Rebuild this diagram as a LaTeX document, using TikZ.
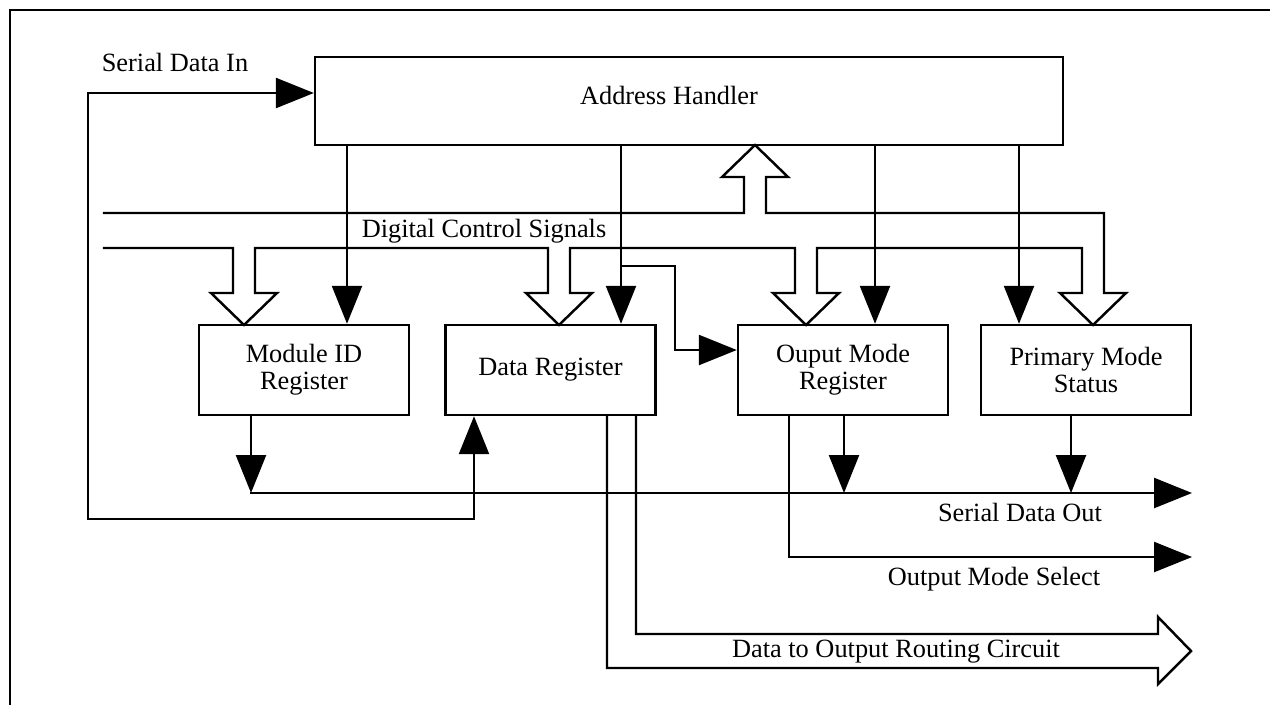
\documentclass[tikz,border=0pt]{standalone}
\usepackage{fontspec}
\setmainfont{Liberation Serif}
\usetikzlibrary{arrows.meta}
\begin{document}
\begin{tikzpicture}[x=0.02cm, y=-0.02cm, line width=1.4pt, line cap=rect,
        font={\fontsize{15}{15.3}\selectfont},
        block/.style={draw, minimum width=4.2cm, minimum height=1.8cm, inner sep=0pt, align=center},
        sig/.style={-{Triangle[length=0.76cm, width=0.6cm]}}]
        \useasboundingbox (0,0) rectangle (1270,704);
        \draw[line width=1.6pt] (10,704) -- (10,10) -- (1270,10);
        % boxes
        \node[draw, minimum width=14.96cm, minimum height=1.76cm] (addr) at (689,101) {};
        \node (addrtxt) at (669,95) {Address Handler};
        \node[block] (modid) at (304,370) {Module ID\\Register};
        \node[block] (datareg) at (550.5,370) {Data Register};
        \node[block] (outmode) at (843,370) {Ouput Mode\\Register};
        \node[block] (primode) at (1086,370) {Primary Mode\\Status};
        % labels
        \node (sditxt) at (175,62) {Serial Data In};
        \node (dcstxt) at (484,231) {Digital Control Signals};
        \node (sdotxt) at (1020,512) {Serial Data Out};
        \node (omstxt) at (994,579) {Output Mode Select};
        \node (dortxt) at (896,652) {Data to Output Routing Circuit};
        \coordinate (sdin) at (88,93);
        \coordinate (sdo) at (1192,493);
        \coordinate (oms) at (1192,557);
        % serial data in loop
        \draw[sig] (sdin) -- (sdin -| addr.west);
        \draw[sig] (sdin) |- (474,519) -- (474,0 |- datareg.south);
        % control bus
        \draw (104,213) -- (744,213) -- (744,177) -- (722,177) -- (755,145) -- (788,177) -- (766,177)
            -- (766,213) -- (1104,213) -- (1104,293) -- (1126,293) -- (1093,325) -- (1060,293)
            -- (1082,293) -- (1082,248) -- (817,248) -- (817,293) -- (839,293) -- (806,325)
            -- (773,293) -- (795,293) -- (795,248) -- (570,248) -- (570,293) -- (592,293)
            -- (559,325) -- (526,293) -- (548,293) -- (548,248) -- (255,248) -- (255,293)
            -- (277,293) -- (244,325) -- (211,293) -- (233,293) -- (233,248) -- (104,248);
        % address handler outputs
        \draw[sig] (347,0 |- addr.south) -- (347,0 |- modid.north);
        \draw[sig] (621,0 |- addr.south) -- (621,0 |- datareg.north);
        \draw[sig] (621,266) -| (675,350) -- (outmode.west |- 0,350);
        \draw[sig] (875,0 |- addr.south) -- (875,0 |- outmode.north);
        \draw[sig] (1019,0 |- addr.south) -- (1019,0 |- primode.north);
        % serial data out
        \draw[sig] (251,0 |- sdo) -- (sdo);
        \draw[sig] (251,0 |- modid.south) -- (251,0 |- sdo);
        \draw[sig] (844,0 |- outmode.south) -- (844,0 |- sdo);
        \draw[sig] (1071,0 |- primode.south) -- (1071,0 |- sdo);
        \draw[sig] (789,0 |- outmode.south) |- (oms);
        % data to output routing
        \draw (607,0 |- datareg.south) -- (607,668) -- (1158,668) -- (1158,684) -- (1191,651)
            -- (1158,617) -- (1158,634) -- (636,634) -- (636,0 |- datareg.south);
    \end{tikzpicture}
\end{document}
